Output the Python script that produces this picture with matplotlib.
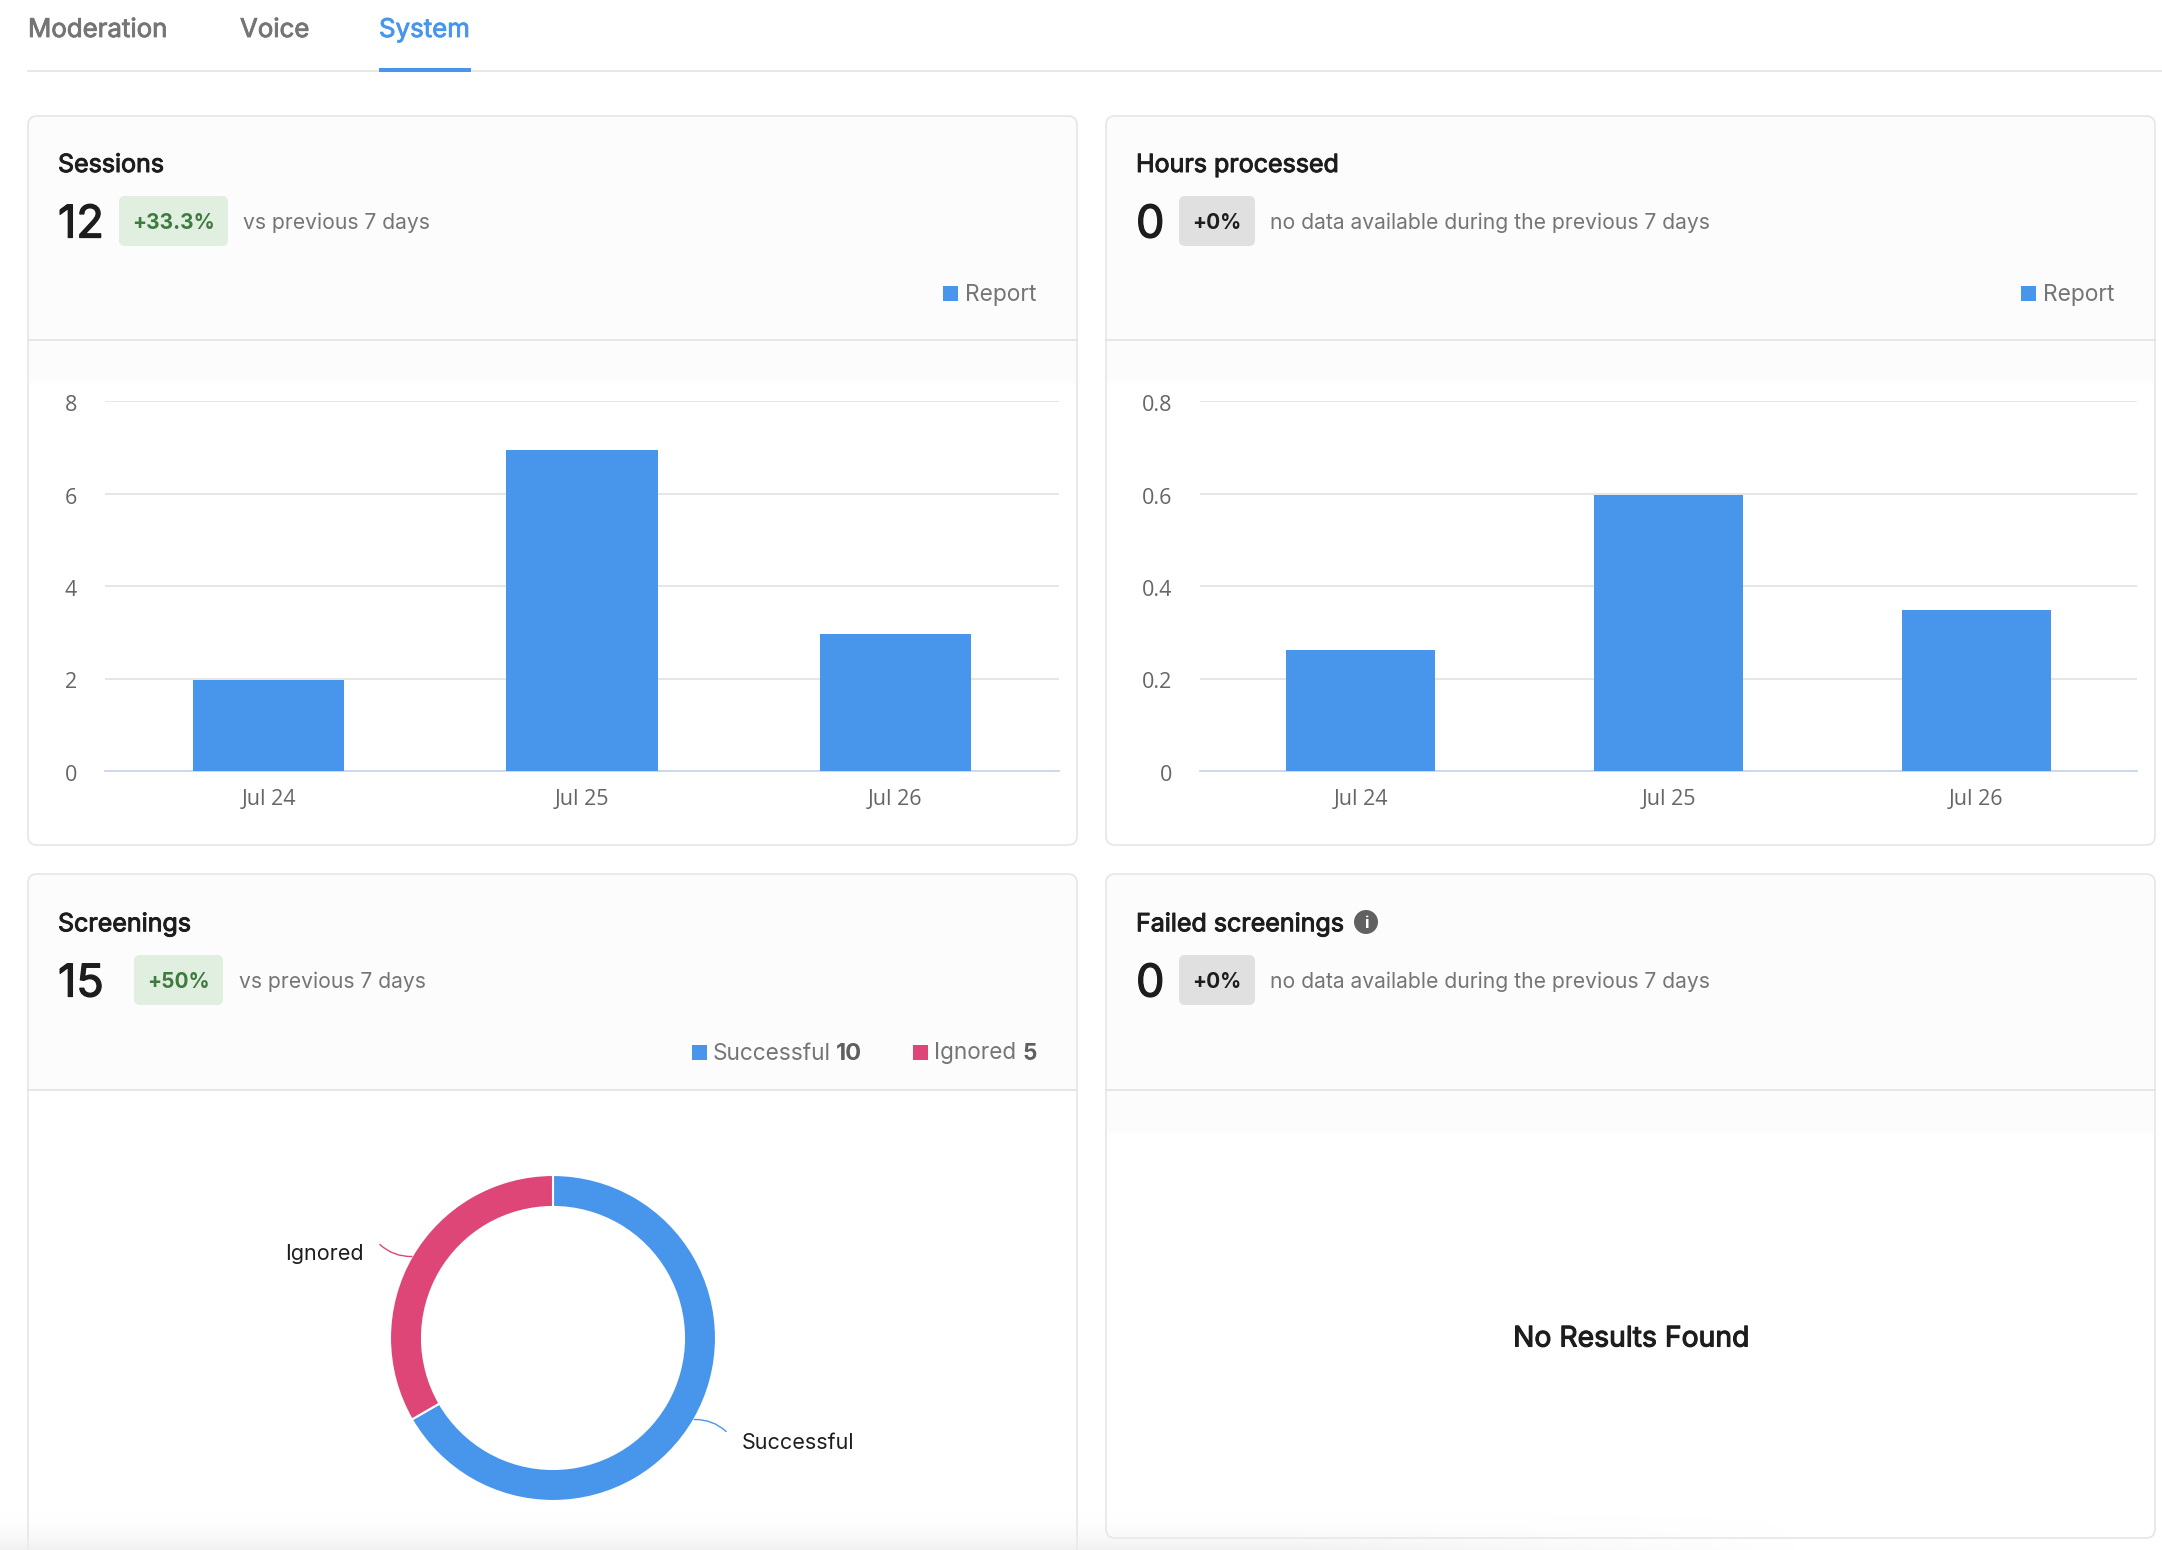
#!/usr/bin/env python3
"""Dashboard recreation: two bar cards, one donut card, one empty card."""
import numpy as np
import matplotlib
matplotlib.use("Agg")
import matplotlib.pyplot as plt
import matplotlib.patheffects as pe
from matplotlib.patches import FancyBboxPatch, Rectangle, Circle
from matplotlib.transforms import ScaledTranslation

W, H = 2162, 1550

tabs = ["Moderation", "Voice", "System"]
days = ["Jul 24", "Jul 25", "Jul 26"]

# the bars sit a touch under the whole numbers
sessions = [1.97, 6.94, 2.96]
sessions_ticks = [0, 2, 4, 6, 8]
sessions_labels = ["0", "2", "4", "6", "8"]

hours = [0.262, 0.597, 0.348]
hours_ticks = [0, 0.2, 0.4, 0.6, 0.8]
hours_labels = ["0", "0.2", "0.4", "0.6", "0.8"]

screening_names = ["Successful", "Ignored"]
screening_values = [10, 5]

BLUE = "#4896ec"
PINK = "#dd4677"
GRID = "#e6e6e6"
BORDER = "#e4e4e4"
HEAD = "#fcfcfc"
DARK = "#1d1d1d"
SUB = "#757575"
TICK = "#666666"

plt.rcParams["font.family"] = ["Inter", "DejaVu Sans"]

fig = plt.figure(figsize=(W / 100, H / 100), dpi=100, facecolor="white")
ui = fig.add_axes([0, 0, 1, 1], zorder=0)
ui.set_xlim(0, W)
ui.set_ylim(H, 0)
ui.axis("off")


def label(x, y, s, size=15.2, color=DARK, weight="normal", ha="left", stroke=0):
    t = ui.text(x, y, s, fontsize=size, color=color, fontweight=weight,
                ha=ha, va="center_baseline")
    # Inter only comes in one weight here, thicken the semibold bits by hand
    if stroke:
        t.set_path_effects([pe.withStroke(linewidth=stroke, foreground=color)])
    return t


def card(x0, x1, y0, y1, split, head_end):
    box = dict(boxstyle="round,pad=0,rounding_size=9")
    back = FancyBboxPatch((x0, y0), x1 - x0, y1 - y0, fc="white", ec="none", **box)
    ui.add_patch(back)
    head = Rectangle((x0, y0), x1 - x0, head_end - y0, fc=HEAD, ec="none")
    ui.add_patch(head)
    head.set_clip_path(back)
    ui.plot([x0, x1], [split, split], color=BORDER, lw=1.3)
    ui.add_patch(FancyBboxPatch((x0, y0), x1 - x0, y1 - y0, fc="none", ec=BORDER,
                                lw=1.1, **box))


def badge(x0, x1, y0, y1, s, fc, color):
    ui.add_patch(FancyBboxPatch((x0, y0), x1 - x0, y1 - y0, fc=fc, ec="none",
                                boxstyle="round,pad=0,rounding_size=6"))
    label((x0 + x1) / 2, (y0 + y1) / 2, s, size=15, color=color, weight="bold", ha="center")


def swatch(x, y, color):
    ui.add_patch(Rectangle((x, y), 15, 15, fc=color, ec="none"))


def bars(x0, x1, values, ticks, tick_labels):
    ax = fig.add_axes([x0 / W, 1 - 771 / H, (x1 - x0) / W, 370 / H], zorder=1)
    ax.patch.set_alpha(0)
    pos = np.arange(len(values))
    ax.bar(pos, values, width=0.484, color=BLUE, zorder=3)
    ax.set_xlim(-0.522, 2.522)
    ax.set_ylim(ticks[0], ticks[-1])
    ax.set_yticks(ticks, tick_labels, family="Open Sans", fontsize=15.5, color=TICK)
    ax.set_xticks(pos, days, family="Open Sans", fontsize=15.5, color=TICK)
    ax.tick_params(axis="y", length=0, pad=20)
    ax.tick_params(axis="x", length=0, pad=13)
    nudge = ScaledTranslation(0, -2 / 100, fig.dpi_scale_trans)
    for t in ax.get_yticklabels():
        t.set_transform(t.get_transform() + nudge)
    ax.grid(axis="y", color=GRID, lw=1.4, zorder=0)
    for side in ["top", "right", "left"]:
        ax.spines[side].set_visible(False)
    ax.spines["bottom"].set_color("#ccd6eb")
    ax.spines["bottom"].set_linewidth(1.3)
    return ax


# tabs
ui.plot([28, W], [71, 71], color=GRID, lw=1.3)
ui.add_patch(Rectangle((379, 68), 92, 3.5, fc=BLUE, ec="none", zorder=3))
for x, name, col in zip([28, 240, 379], tabs, [SUB, SUB, BLUE]):
    label(x, 28, name, size=18.6, color=col, stroke=0.6)

# cards
card(28, 1077, 116, 845, 340, 383)
card(1106, 2155, 116, 845, 340, 383)
card(28, 1077, 874, 1600, 1090, 1090)
card(1106, 2155, 874, 1538, 1090, 1133)

# Sessions header
label(58, 163, "Sessions", size=18, stroke=0.7)
label(58, 221, "12", size=32.5, stroke=0.9)
badge(119, 228, 196, 246, "+33.3%", "#e1efe0", "#3f7a3f")
label(243, 221, "vs previous 7 days", color=SUB)
swatch(943, 286, BLUE)
label(965, 292, "Report", size=16.4, color=SUB)

# Hours header
label(1136, 163, "Hours processed", size=18, stroke=0.7)
label(1136, 221, "0", size=32.5, stroke=0.9)
badge(1179, 1255, 196, 246, "+0%", "#e0e0e0", DARK)
label(1270, 221, "no data available during the previous 7 days", color=SUB)
swatch(2021, 286, BLUE)
label(2043, 292, "Report", size=16.4, color=SUB)

# Screenings header
label(58, 922, "Screenings", size=18, stroke=0.7)
label(58, 980, "15", size=32.5, stroke=0.9)
badge(134, 223, 955, 1005, "+50%", "#e1efe0", "#3f7a3f")
label(239, 980, "vs previous 7 days", color=SUB)
swatch(692, 1045, BLUE)
label(713, 1051, screening_names[0], size=16.3, color=SUB)
label(836, 1051, str(screening_values[0]), size=17, color="#5f5f5f", weight="bold")
swatch(913, 1045, PINK)
label(934, 1051, screening_names[1], size=16.2, color=SUB)
label(1023, 1051, str(screening_values[1]), size=16.2, color="#5f5f5f", weight="bold")

# Failed screenings
label(1136, 922, "Failed screenings", size=18, stroke=0.7)
ui.add_patch(Circle((1366, 922), 12, fc="#616161", ec="none"))
label(1366, 922, "i", size=12, color="white", weight="bold", ha="center")
label(1136, 980, "0", size=32.5, stroke=0.9)
badge(1179, 1255, 955, 1005, "+0%", "#e0e0e0", DARK)
label(1270, 980, "no data available during the previous 7 days", color=SUB)
label(1631, 1336, "No Results Found", size=20.4, stroke=0.8, ha="center")

# bar charts
bars(105, 1059, sessions, sessions_ticks, sessions_labels)
bars(1200, 2137, hours, hours_ticks, hours_labels)

# donut
cx, cy, r = 553, 1338, 163
side = 2 * r * 1.25
pie_ax = fig.add_axes([(cx - side / 2) / W, 1 - (cy + side / 2) / H, side / W, side / H], zorder=1)
pie_ax.patch.set_alpha(0)
wedges, _ = pie_ax.pie(screening_values, startangle=90, counterclock=False, radius=1,
                       colors=[BLUE, PINK],
                       wedgeprops=dict(width=32 / r, edgecolor="white", linewidth=1.5))
pie_ax.set_xlim(-1.25, 1.25)
pie_ax.set_ylim(-1.25, 1.25)

# leader lines start at each wedge's middle angle
for w, col, off in zip(wedges, [BLUE, PINK], [(32, -12), (-32, 12)]):
    ang = np.deg2rad((w.theta1 + w.theta2) / 2)
    start = (np.cos(ang), np.sin(ang))
    pie_ax.annotate("", xy=start, xycoords="data", xytext=off, textcoords="offset pixels",
                    arrowprops=dict(arrowstyle="-", color=col, lw=1.0, shrinkA=0, shrinkB=0,
                                    connectionstyle="arc3,rad=0.2"))

label(364, 1252, screening_names[1], size=15.5, ha="right")
label(742, 1441, screening_names[0], size=15.5)

# faint fade across the bottom edge of the screenshot
fade_y = np.linspace(0, 1, 40)[:, None]
fade_x = np.clip((1800 - np.linspace(0, W, 200)) / 500, 0, 1)[None, :]
rgba = np.zeros((40, 200, 4))
rgba[..., :3] = 0.93
rgba[..., 3] = (fade_y ** 2) * fade_x * 0.75
top = fig.add_axes([0, 0, 1, 40 / H], zorder=3)
top.imshow(rgba, aspect="auto", interpolation="bilinear")
top.axis("off")

fig.savefig("out.png", dpi=100)
